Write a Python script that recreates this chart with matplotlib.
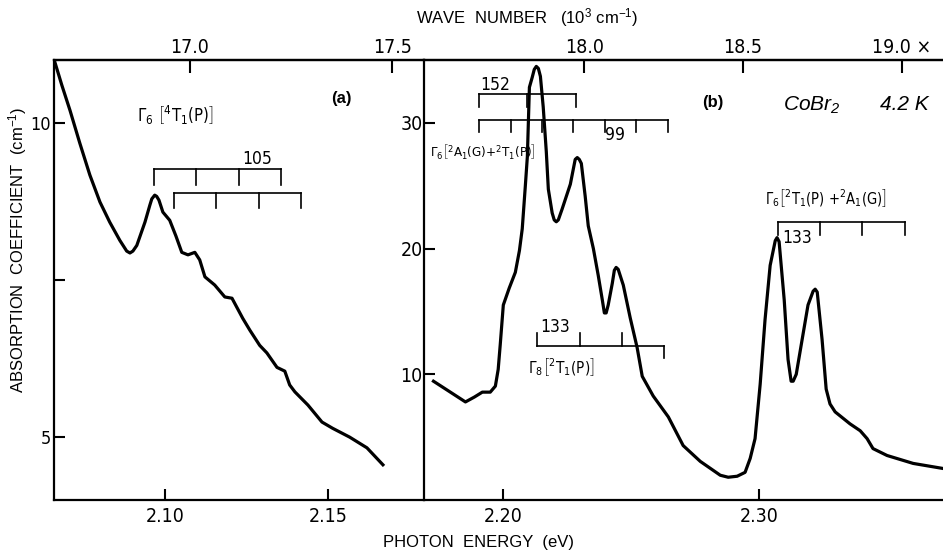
import numpy as np
import matplotlib
matplotlib.use('Agg')
import matplotlib.pyplot as plt
from matplotlib import font_manager

# photon energy (eV) and absorption coefficient (cm^-1), CoBr2 at 4.2 K
energy_a = [2.0663, 2.0684, 2.0709, 2.0739, 2.0770, 2.0801, 2.0831, 2.0862, 2.0883,
            2.0893, 2.0902, 2.0914, 2.0939, 2.0954, 2.0960, 2.0969, 2.0975, 2.0982,
            2.0994, 2.1015, 2.1034, 2.1052, 2.1071, 2.1092, 2.1107, 2.1123, 2.1153,
            2.1184, 2.1206, 2.1239, 2.1261, 2.1291, 2.1313, 2.1344, 2.1368, 2.1383,
            2.1399, 2.1439, 2.1482, 2.1515, 2.1567, 2.1620, 2.1669]
alpha_a = [10.96, 10.60, 10.20, 9.68, 9.17, 8.74, 8.42, 8.13, 7.96,
           7.93, 7.96, 8.05, 8.42, 8.69, 8.79, 8.85, 8.83, 8.77,
           8.58, 8.45, 8.20, 7.94, 7.90, 7.94, 7.82, 7.55, 7.42,
           7.23, 7.21, 6.89, 6.70, 6.46, 6.34, 6.11, 6.05, 5.83,
           5.72, 5.51, 5.24, 5.14, 5.00, 4.83, 4.56]

energy_b = [2.1727, 2.1793, 2.1852, 2.1887, 2.1918, 2.1949, 2.1969, 2.1980, 2.1988,
            2.2000, 2.2023, 2.2047, 2.2063, 2.2074, 2.2086, 2.2094, 2.2102, 2.2113,
            2.2121, 2.2129, 2.2137, 2.2145, 2.2156, 2.2168, 2.2176, 2.2191, 2.2199,
            2.2207, 2.2215, 2.2230, 2.2262, 2.2281, 2.2289, 2.2297, 2.2305, 2.2320,
            2.2332, 2.2352, 2.2371, 2.2387, 2.2395, 2.2402, 2.2410, 2.2426, 2.2434,
            2.2441, 2.2449, 2.2469, 2.2496, 2.2523, 2.2543, 2.2586, 2.2645, 2.2703,
            2.2770, 2.2848, 2.2879, 2.2914, 2.2945, 2.2965, 2.2984, 2.3004, 2.3023,
            2.3043, 2.3063, 2.3070, 2.3078, 2.3098, 2.3113, 2.3125, 2.3133, 2.3145,
            2.3168, 2.3191, 2.3211, 2.3219, 2.3227, 2.3246, 2.3262, 2.3277, 2.3297,
            2.3355, 2.3395, 2.3422, 2.3445, 2.3500, 2.3602, 2.3715]
alpha_b = [9.45, 8.58, 7.80, 8.19, 8.58, 8.58, 9.06, 10.39, 12.36,
           15.51, 16.85, 18.11, 19.84, 21.57, 24.96, 27.32, 32.83, 33.62,
           34.25, 34.49, 34.33, 33.70, 31.26, 27.72, 24.72, 22.83, 22.28,
           22.13, 22.28, 23.15, 25.12, 27.09, 27.24, 27.09, 26.77, 24.17,
           21.81, 20.00, 17.87, 15.91, 14.88, 14.88, 15.51, 17.24, 18.27,
           18.50, 18.35, 17.09, 14.49, 12.13, 9.84, 8.27, 6.61, 4.33,
           3.07, 1.97, 1.81, 1.89, 2.20, 3.31, 4.88, 9.21, 14.33,
           18.66, 20.63, 20.87, 20.55, 15.91, 11.18, 9.45, 9.45, 10.00,
           12.76, 15.51, 16.61, 16.77, 16.54, 12.76, 8.82, 7.64, 7.01,
           6.06, 5.51, 4.88, 4.09, 3.54, 2.91, 2.52]

# vibronic progressions: first line (eV), spacing (cm^-1), number of steps
prog_a1 = (2.0966, 105, 3)
prog_a2 = (2.1028, 105, 3)
prog_b152 = (2.1906, 152, 2)
prog_b99 = (2.1906, 99, 6)
prog_b8 = (2.2133, 133, 3)
prog_b6 = (2.3074, 133, 3)

ticks_k_a = [17.0, 17.5]
labels_k_a = ['17.0', '17.5']
ticks_k_b = [18.0, 18.5, 19.0]
labels_k_b = ['18.0', '18.5', '19.0 ×']

CM_PER_EV = 8065.54

# narrow face for numbers and labels, if one is installed
condensed = [f.name for f in font_manager.fontManager.ttflist
             if f.stretch == 'condensed' and f.style == 'normal']
NARROW = None
for fam in ['Liberation Sans Narrow', 'DejaVu Sans', 'Noto Sans', 'Open Sans', 'Roboto']:
    if fam in condensed:
        NARROW = fam
        break
WIDE = 'Liberation Sans'
if NARROW is None:
    NARROW = WIDE
    scale = 0.85
else:
    scale = 1.0

plt.rcParams['font.family'] = [NARROW, 'DejaVu Sans']
plt.rcParams['font.stretch'] = 'condensed'
plt.rcParams['mathtext.fontset'] = 'custom'
plt.rcParams['mathtext.rm'] = NARROW + ':stretch=condensed'
plt.rcParams['mathtext.it'] = NARROW + ':italic:stretch=condensed'
plt.rcParams['mathtext.bf'] = NARROW + ':bold:stretch=condensed'
plt.rcParams['mathtext.default'] = 'regular'


def to_k(e):
    return np.asarray(e) * CM_PER_EV / 1000.0


def to_ev(k):
    return np.asarray(k) * 1000.0 / CM_PER_EV


def ladder(ax, prog, level, depth, dirs=None):
    start, step_cm, n = prog
    xs = start + step_cm / CM_PER_EV * np.arange(n + 1)
    ax.plot([xs[0], xs[-1]], [level, level], color='k', lw=1.2)
    if dirs is None:
        dirs = [-1] * len(xs)
    for x, d in zip(xs, dirs):
        ax.plot([x, x], [level, level + d * depth], color='k', lw=1.2)


fig = plt.figure(figsize=(9.43, 5.54), dpi=100)
ax_a = fig.add_axes([54 / 943, 54 / 554, 370 / 943, 440 / 554])
ax_b = fig.add_axes([424 / 943, 54 / 554, 526 / 943, 440 / 554])

for ax in (ax_a, ax_b):
    for s in ax.spines.values():
        s.set_linewidth(1.6)
    ax.tick_params(direction='in', length=8, width=1.5, labelsize=14, pad=3)
    ax.tick_params(axis='x', pad=5)
ax_b.spines['right'].set_visible(False)
ax_a.spines['right'].set_visible(False)

# panel (a)
ax_a.plot(energy_a, alpha_a, color='k', lw=2.3, solid_joinstyle='round')
ax_a.set_xlim(2.0660, 2.1795)
ax_a.set_ylim(4, 11)
ax_a.set_xticks([2.10, 2.15])
ax_a.set_xticklabels(['2.10', '2.15'])
ax_a.set_yticks([5, 7.5, 10])
ax_a.set_yticklabels(['5', '', '10'])
ax_a.tick_params(axis='y', pad=2, labelsize=13)

top_a = ax_a.secondary_xaxis('top', functions=(to_k, to_ev))
top_a.set_xticks(ticks_k_a)
top_a.set_xticklabels(labels_k_a)
top_a.tick_params(direction='in', length=9, width=1.5, labelsize=14, pad=2)
top_a.spines['top'].set_linewidth(1.6)

ladder(ax_a, prog_a1, 9.26, 0.25)
ladder(ax_a, prog_a2, 8.88, 0.24)
ax_a.text(2.1282, 9.42, '105', fontsize=12.5 * scale, ha='center', va='center')
ax_a.text(2.0914, 10.12, r'$\Gamma_6\ \left[{}^4T_1(P)\right]$', fontsize=12 * scale,
          ha='left', va='center')
ax_a.text(2.1543, 10.39, '(a)', fontsize=12, fontweight='bold', family=WIDE,
          fontstretch='normal', ha='center', va='center')

# panel (b)
ax_b.plot(energy_b, alpha_b, color='k', lw=2.3, solid_joinstyle='round')
ax_b.set_xlim(2.169, 2.3746)
ax_b.set_ylim(0, 35)
ax_b.set_xticks([2.20, 2.30])
ax_b.set_xticklabels(['2.20', '2.30'])
ax_b.set_yticks([10, 20, 30])
ax_b.tick_params(axis='y', pad=1)

top_b = ax_b.secondary_xaxis('top', functions=(to_k, to_ev))
top_b.set_xticks(ticks_k_b)
top_b.set_xticklabels(labels_k_b)
top_b.tick_params(direction='in', length=9, width=1.5, labelsize=14, pad=2)
top_b.spines['top'].set_linewidth(1.6)

ladder(ax_b, prog_b152, 32.3, 1.0)
ladder(ax_b, prog_b99, 30.2, 0.9)
ladder(ax_b, prog_b8, 12.28, 1.0, dirs=[1, 1, 1, -1])
ladder(ax_b, prog_b6, 22.1, 1.0)

ax_b.text(2.1910, 33.0, '152', fontsize=12.5 * scale, ha='left', va='center')
ax_b.text(2.2438, 29.06, '99', fontsize=12.5 * scale, ha='center', va='center')
ax_b.text(2.1713, 27.7, r'$\Gamma_6\left[{}^2A_1(G){+}{}^2T_1(P)\right]$',
          fontsize=9.5 * scale, ha='left', va='center')
ax_b.text(2.2203, 13.78, '133', fontsize=12.5 * scale, ha='center', va='center')
ax_b.text(2.2098, 10.55, r'$\Gamma_8\left[{}^2T_1(P)\right]$', fontsize=11 * scale,
          ha='left', va='center')
ax_b.text(2.3023, 24.0, r'$\Gamma_6\left[{}^2T_1(P)\ {+}{}^2A_1(G)\right]$',
          fontsize=10.5 * scale, ha='left', va='center')
ax_b.text(2.3148, 20.87, '133', fontsize=12.5 * scale, ha='center', va='center')
ax_b.text(2.2820, 31.65, '(b)', fontsize=12, fontweight='bold', family=WIDE,
          fontstretch='normal', ha='center', va='center')
ax_b.text(2.3094, 31.4, r'CoBr$_2$', fontsize=15, style='italic', family=WIDE,
          fontstretch='normal', ha='left', va='center')
ax_b.text(2.3473, 31.5, '4.2 K', fontsize=15, style='italic', family=WIDE,
          fontstretch='normal', ha='left', va='center')

# axis titles
fig.text(527 / 943, 1 - 18 / 554, r'WAVE  NUMBER   (10$^3$ cm$^{-1}$)', fontsize=12,
         family=WIDE, fontstretch='normal', ha='center', va='center')
fig.text(478 / 943, 1 - 543 / 554, 'PHOTON  ENERGY  (eV)', fontsize=12,
         family=WIDE, fontstretch='normal', ha='center', va='center')
fig.text(18 / 943, 1 - 250 / 554, r'ABSORPTION  COEFFICIENT  (cm$^{-1}$)', fontsize=12,
         family=WIDE, fontstretch='normal', rotation=90, ha='center', va='center')

fig.savefig('out.png', dpi=100)
